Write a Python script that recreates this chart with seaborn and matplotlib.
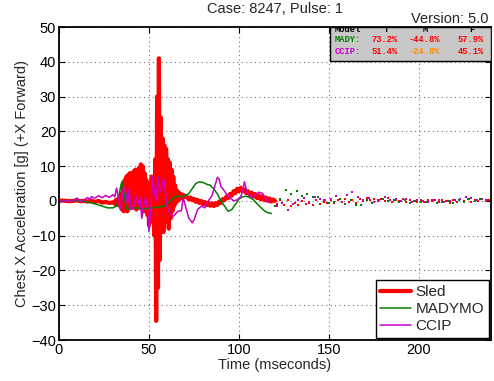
import numpy as np
import pandas as pd
import matplotlib
matplotlib.use("Agg")
import matplotlib.pyplot as plt
from matplotlib.patches import Rectangle
import seaborn as sns

# ---- donnees ----
# Sled : debut calme, rafale 30-70 ms (pas 0.5 ms), puis 71-120 ms
sled_t_start = [0, 2, 4, 6, 8, 10, 12, 14, 16, 18, 20, 22, 24, 26, 28, 30]
sled_v_start = [0, 0.1, 0, -0.1, 0, 0.2, -0.1, 0, -0.2, 0.1, -0.3, 0, -0.5, -0.3, -0.6, -0.4]

sled_v_burst = [
    -0.3, -0.8, 0.2, -1.0, 0.5, -1.2, 1.0, -1.5, 2.0, -2.5,
    5.0, -3.0, 6.0, -2.0, 7.0, -3.0, 7.5, -2.0, 8.0, -1.5,
    7.0, -2.0, 8.5, -1.0, 9.0, -2.5, 8.0, -1.0, 9.5, -2.0,
    10.5, -1.5, 10.0, -3.0, 8.0, -2.0, 6.0, -4.0, 5.0, -7.0,
    4.0, -6.0, 7.0, -3.0, 6.0, -10.0, 12.0, -34.5, 30.0, -25.0,
    41.0, -17.0, 24.0, -5.0, 18.0, -9.0, 16.0, -6.0, 15.0, -4.0,
    12.0, -8.0, 11.0, -5.0, 9.0, -3.0, 7.0, -1.5, 4.5, -0.5,
    3.0, 0.0, 2.5, 0.5, 2.0, 0.8, 1.8, 1.0, 1.6, 1.2,
]
sled_t_burst = np.arange(30.5, 70.01, 0.5)

sled_v_end = [
    1.2, 0.5, 1.0, 0.2, 0.6, -0.3, 0.3, -0.6, 0.0, -0.9,
    -0.3, -1.2, -0.5, -1.4, -0.7, -1.5, -0.6, -1.2, -0.2, -0.6,
    0.5, 0.2, 1.2, 0.8, 2.0, 1.5, 2.8, 2.2, 3.5, 2.8,
    3.8, 2.8, 3.3, 2.2, 2.8, 1.6, 2.4, 1.2, 2.0, 0.8,
    1.6, 0.5, 1.3, 0.2, 1.0, 0.0, 0.7, -0.2, 0.4, 0.0,
]
sled_t_end = np.arange(71, 121, 1)

mady_t = [0, 5, 10, 15, 18, 21, 24, 27, 30, 32, 33, 34, 35, 36, 37, 38, 40, 43, 46, 49,
          52, 55, 58, 60, 62, 64, 66, 69, 72, 74, 76, 78, 80, 82, 84, 86, 88, 90, 92, 94,
          96, 98, 100, 102, 104, 106, 108, 110, 112, 114, 116, 118]
mady_v = [0, 0, 0.1, -0.2, -0.6, -1.0, -1.5, -2.0, -2.0, -1.5, 0.5, 3.5, 5.5, 3.0, -1.0, -2.5, -2.2, -2.0, -2.3, -2.2,
          -2.0, -1.8, -1.5, -1.0, 0.0, 1.0, 1.4, 1.2, 2.0, 3.5, 5.0, 5.5, 5.3, 4.8, 4.5, 3.5, 2.0, 0.0, -1.5, -3.0,
          -2.5, -1.0, 0.5, 1.2, 1.3, 1.0, 0.3, -0.8, -1.8, -2.8, -3.4, -3.6]

ccip_t = [0, 8, 10, 11, 12, 14, 16, 17, 18, 20, 22, 24, 26, 28, 30, 31, 32, 33, 34, 35,
          36, 37, 38, 39, 40, 41, 42, 43, 44, 45, 46, 47, 48, 49, 50, 51, 52, 53, 54, 55,
          56, 57, 58, 59, 60, 61, 62, 63, 64, 66, 68, 69, 70, 72, 74, 75, 77, 79, 81, 83,
          85, 87, 88, 89, 90, 91, 93, 95, 97, 99, 101, 102, 103, 104, 105, 107, 109, 111, 113, 115,
          117]
ccip_v = [0, 0, 0.8, 0.2, -0.2, 0.3, 1.0, 0.3, 1.2, 0.8, 1.5, 0.9, 1.6, 1.0, 1.8, 1.2, 3.7, 1.0, -2.5, 0.5,
          4.0, 2.5, -1.0, 3.5, -2.5, -2.0, -0.5, 1.5, -1.0, 1.0, -5.0, -1.5, 1.0, -2.0, -8.8, -3.0, 7.0, 3.0, 0.0, 7.0,
          2.5, 4.0, 6.5, 3.0, -1.5, -3.0, -3.5, -4.5, -4.2, -3.0, -2.8, 1.0, -1.0, -4.8, -6.3, -5.5, -2.5, -1.5, -2.0, 0.0,
          1.5, 5.0, 6.8, 6.2, 4.0, 3.5, 2.0, 1.0, 0.0, 0.3, 1.2, 3.0, 5.5, 3.5, 2.0, 1.0, 1.5, 2.5, 2.2, 0.5,
          -0.5]

# queues en pointilles (points epars apres 120 ms)
sled_tail_t = np.arange(121, 240, 2)
sled_tail_v = [-0.8, 0.3, -1.2, 0.2, -1.5, -0.5, -1.3, 0.0, -1.0, -0.4, -1.1, 0.2, -0.8, -0.2, -0.6,
               0.2, -0.5, 0.4, -0.3, 0.6, -0.2, 0.3, -0.6, 0.5, 0.0, 0.8, 0.2, 0.6, -0.1, 0.5,
               0.1, 0.7, -0.2, 0.4, 0.0, 0.5, -0.3, 0.3, 0.1, -0.4, 0.2, -0.2, 0.4, -0.1, 0.2,
               -0.3, 0.3, 0.0, -0.5, 0.2, -0.2, 0.5, 0.1, 0.6, -0.2, 0.4, 0.0, 0.5, -0.1, 0.2]
mady_tail_t = np.arange(120, 241, 3)
mady_tail_v = [-1.5, 0.5, 3.0, 2.0, 2.8, 1.5, 2.0, 1.2, 1.0, 0.3, -0.5,
               -0.2, 0.5, -0.8, 0.3, -1.2, -1.3, 0.4, -0.6, 0.2, 0.6,
               0.0, 0.4, -0.3, 0.2, -0.5, 0.1, -0.2, -0.4, 0.3, -0.6,
               -0.3, -0.1, -0.7, 0.2, -0.4, 0.5, 0.0, 0.6, 0.2, 0.1]
ccip_tail_t = np.arange(121, 239, 3)
ccip_tail_v = [-1.6, -0.5, -2.7, -1.0, 0.3, 0.8, -0.5, 1.2, 0.6, 0.2,
               0.5, 1.5, -0.3, 1.8, 2.7, 1.0, 0.2, 0.8, -0.2, 0.4,
               1.0, 0.3, 0.6, 0.0, 0.5, -0.2, 0.3, 0.1, -0.3, 0.2,
               0.4, -0.2, 0.0, 0.3, 0.6, 1.2, 0.8, 0.2, 0.5, 0.3]

# tableau des scores
table_models = ["MADY:", "CCIP:"]
table_cols = ["T", "M", "F"]
table_vals = [["73.2%", "-44.8%", "57.9%"],
              ["51.4%", "-24.8%", "45.1%"]]

RED = "#ff0000"
GREEN = "#008000"
MAGENTA = "#c800c8"
ORANGE = "#ff8c00"

sns.set_style("white")
plt.rcParams["font.family"] = ["Liberation Sans", "DejaVu Sans"]

sled_t = np.concatenate([sled_t_start, sled_t_burst, sled_t_end])
sled_v = np.concatenate([sled_v_start, sled_v_burst, sled_v_end])
sled = pd.DataFrame({"t": sled_t, "v": sled_v})
mady = pd.DataFrame({"t": mady_t, "v": mady_v})
ccip = pd.DataFrame({"t": ccip_t, "v": ccip_v})

fig = plt.figure(figsize=(4.94, 3.81), dpi=100)
ax = fig.add_axes([0.1194, 0.1076, 0.8745, 0.8215])

sns.lineplot(data=sled, x="t", y="v", color=RED, lw=3.0, sort=False, estimator=None, ax=ax, label="Sled")
sns.lineplot(data=mady, x="t", y="v", color=GREEN, lw=1.1, sort=False, estimator=None, ax=ax, label="MADYMO")
sns.lineplot(data=ccip, x="t", y="v", color=MAGENTA, lw=1.1, sort=False, estimator=None, ax=ax, label="CCIP")

sns.scatterplot(x=sled_tail_t, y=sled_tail_v, color=RED, s=4, marker="s", linewidth=0, ax=ax, legend=False)
sns.scatterplot(x=mady_tail_t, y=mady_tail_v, color=GREEN, s=3, marker="s", linewidth=0, ax=ax, legend=False)
sns.scatterplot(x=ccip_tail_t, y=ccip_tail_v, color=MAGENTA, s=3, marker="s", linewidth=0, ax=ax, legend=False)

ax.set_xlim(0, 240)
ax.set_ylim(-40, 50)
ax.set_xticks([0, 50, 100, 150, 200])
ax.set_yticks(np.arange(-40, 51, 10))
ax.grid(True, linestyle=(0, (1, 3)), color="#707070", lw=0.8)
ax.tick_params(direction="in", length=4, width=0.8, labelsize=10.5, top=True, right=True,
               bottom=True, left=True, pad=2, colors="black")
for sp in ax.spines.values():
    sp.set_color("black")
    sp.set_linewidth(1.3)

ax.set_xlabel("Time (mseconds)", fontsize=10.5, labelpad=1)
ax.set_ylabel("Chest X Acceleration [g] (+X Forward)", fontsize=10.5, labelpad=2)
ax.set_title("Case: 8247, Pulse: 1", fontsize=10.5, pad=10)
fig.text(0.988, 1 - 23 / 381, "Version: 5.0", ha="right", va="baseline", fontsize=10.5)

leg = ax.legend(loc="lower right", fontsize=11, frameon=True, fancybox=False,
                edgecolor="black", framealpha=1, borderaxespad=0.15, handlelength=2.0,
                labelspacing=0.2, borderpad=0.3, handletextpad=0.3)
leg.get_frame().set_linewidth(1.0)

# encadre gris du tableau
ax.add_patch(Rectangle((0.627, 0.891), 0.373, 0.109, transform=ax.transAxes,
                       facecolor="#c8c8c8", edgecolor="black", lw=1.0, zorder=5))
mono = dict(family="Liberation Mono", fontweight="bold", fontsize=6.3, zorder=6,
            transform=ax.transAxes, va="center")
ax.text(0.639, 0.993, "Model", color="black", ha="left", clip_on=True, **mono)
for x, c in zip([0.759, 0.847, 0.956], table_cols):
    ax.text(x, 0.993, c, color="black", ha="center", clip_on=True, **mono)
row_y = [0.9607, 0.921]
row_colors = [GREEN, MAGENTA]
val_colors = [[RED, RED, RED], [RED, ORANGE, RED]]
for i, name in enumerate(table_models):
    ax.text(0.639, row_y[i], name, color=row_colors[i], ha="left", **mono)
    for j, x in enumerate([0.7245, 0.810, 0.9236]):
        ax.text(x, row_y[i], table_vals[i][j], color=val_colors[i][j], ha="left", **mono)

fig.savefig("out.png", dpi=100)
